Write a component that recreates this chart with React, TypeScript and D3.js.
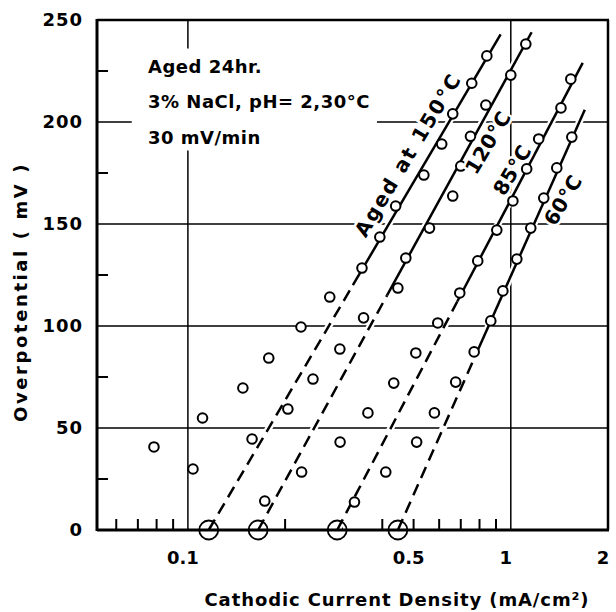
import React, { useEffect, useRef } from 'react';
import * as d3 from 'd3';

// measured points, one array pair per ageing temperature
const x150 = [0.0785, 0.111, 0.148, 0.178, 0.224, 0.275, 0.346, 0.393, 0.44, 0.538, 0.611, 0.661, 0.757, 0.843];
const y150 = [40.7, 54.9, 69.6, 84.3, 99.5, 114.2, 128.4, 143.6, 158.8, 174, 189.2, 204, 219, 232.4];
const x120 = [0.1037, 0.158, 0.204, 0.244, 0.2955, 0.35, 0.447, 0.473, 0.56, 0.661, 0.7, 0.75, 0.837, 1.0, 1.113];
const y120 = [29.9, 44.6, 59.3, 74, 88.7, 104, 118.6, 133.3, 148, 163.7, 178.4, 193, 208.3, 223, 238.2];
const x85 = [0.173, 0.225, 0.296, 0.361, 0.434, 0.508, 0.594, 0.695, 0.79, 0.905, 1.015, 1.12, 1.22, 1.43, 1.534];
const y85 = [14.2, 28.4, 43.1, 57.4, 72, 86.8, 101.5, 116.2, 131.9, 147, 161.3, 177, 191.7, 206.9, 221];
const x60 = [0.328, 0.41, 0.511, 0.58, 0.675, 0.77, 0.867, 0.945, 1.044, 1.153, 1.265, 1.388, 1.545];
const y60 = [13.7, 28.4, 43.1, 57.4, 72.5, 87.3, 102.5, 117.2, 132.8, 148, 162.7, 177.5, 192.6];

// Tafel lines: intercept at 0 mV, upper end, and where the solid part starts
const fitNames = ['Aged at 150°C', '120°C', '85°C', '60°C'];
const fitX0 = [0.116, 0.165, 0.29, 0.447];
const fitTopX = [0.93, 1.16, 1.67, 1.695];
const fitTopY = [243, 244, 229, 206];
const fitSolidFrom = [120, 115, 112, 85];
const labelX = [0.48, 0.849, 1.01, 1.449];
const labelY = [184, 190, 176.5, 161.8];

const xTickValues = [0.1, 0.5, 1, 2];
const xTickLabels = ['0.1', '0.5', '1', '2'];
const xMinorTicks = [0.06, 0.07, 0.08, 0.09, 0.2, 0.3, 0.4, 0.6, 0.7, 0.8, 0.9, 0.5];
const yTickValues = [0, 50, 100, 150, 200, 250];
const yMinorTicks = [25, 75, 125, 175, 225];
const notes = ['Aged 24hr.', '3% NaCl, pH= 2,30°C', '30 mV/min'];

const App: React.FC = () => {
  const svgRef = useRef<SVGSVGElement>(null);

  useEffect(() => {
    if (!svgRef.current) return;
    const width = 616;
    const height = 612;
    const plot = { left: 97, right: 608, top: 20, bottom: 530 };
    const font = '"DejaVu Sans", Verdana, sans-serif';

    d3.select(svgRef.current).selectAll('*').remove();
    const svg = d3.select(svgRef.current).attr('width', width).attr('height', height);

    const xScale = d3.scaleLog().domain([0.0523, 2]).range([plot.left, plot.right]);
    const yScale = d3.scaleLinear().domain([0, 250]).range([plot.bottom, plot.top]);

    const grid = svg.append('g').attr('stroke', '#000').attr('stroke-width', 1.5);
    // horizontal grid
    [50, 100, 150].forEach((v) => {
      grid.append('line')
        .attr('x1', plot.left).attr('x2', plot.right)
        .attr('y1', yScale(v)).attr('y2', yScale(v));
    });
    [[0.0523, 0.067], [0.385, 2]].forEach(([a, b]) => {
      grid.append('line')
        .attr('x1', xScale(a)).attr('x2', xScale(b))
        .attr('y1', yScale(200)).attr('y2', yScale(200));
    });
    // vertical grid
    [[250, 236], [186, 0]].forEach(([a, b]) => {
      grid.append('line')
        .attr('x1', xScale(0.1)).attr('x2', xScale(0.1))
        .attr('y1', yScale(a)).attr('y2', yScale(b));
    });
    grid.append('line')
      .attr('x1', xScale(1)).attr('x2', xScale(1))
      .attr('y1', yScale(250)).attr('y2', yScale(0));

    // minor ticks
    xMinorTicks.forEach((t) => {
      grid.append('line')
        .attr('x1', xScale(t)).attr('x2', xScale(t))
        .attr('y1', plot.bottom).attr('y2', plot.bottom - 11)
        .attr('stroke-width', 2);
    });
    yMinorTicks.forEach((t) => {
      grid.append('line')
        .attr('x1', plot.left).attr('x2', plot.left + 11)
        .attr('y1', yScale(t)).attr('y2', yScale(t))
        .attr('stroke-width', 2);
    });

    const line = d3.line<[number, number]>()
      .x((d) => xScale(d[0]))
      .y((d) => yScale(d[1]));

    const fitAt = (i: number, v: number) =>
      fitX0[i] * Math.pow(fitTopX[i] / fitX0[i], v / fitTopY[i]);

    const fits = svg.append('g').attr('fill', 'none');
    fitNames.forEach((_, i) => {
      const top: [number, number] = [fitTopX[i], fitTopY[i]];
      const mid: [number, number] = [fitAt(i, fitSolidFrom[i]), fitSolidFrom[i]];
      const foot: [number, number] = [fitX0[i], 0];
      fits.append('path').attr('d', line([foot, top]))
        .attr('stroke', '#fff').attr('stroke-width', 7);
      fits.append('path').attr('d', line([mid, top]))
        .attr('stroke', '#000').attr('stroke-width', 2.5);
      fits.append('path').attr('d', line([foot, mid]))
        .attr('stroke', '#000').attr('stroke-width', 2.5)
        .attr('stroke-dasharray', '12,7');
    });

    // points
    const pts = svg.append('g')
      .attr('fill', '#fff').attr('stroke', '#000').attr('stroke-width', 2);
    const seriesX = [x150, x120, x85, x60];
    const seriesY = [y150, y120, y85, y60];
    seriesX.forEach((xs, s) => {
      xs.forEach((xv, j) => {
        pts.append('circle')
          .attr('cx', xScale(xv)).attr('cy', yScale(seriesY[s][j])).attr('r', 4.8);
      });
    });

    // intercept circles
    fitX0.forEach((x0) => {
      svg.append('circle')
        .attr('cx', xScale(x0)).attr('cy', yScale(0)).attr('r', 9.5)
        .attr('fill', 'none').attr('stroke', '#000').attr('stroke-width', 1.8);
    });

    // curve labels
    fitNames.forEach((name, i) => {
      const px = xScale(labelX[i]);
      const py = yScale(labelY[i]);
      svg.append('text')
        .attr('transform', `translate(${px},${py}) rotate(-59)`)
        .attr('text-anchor', 'middle').attr('dy', '0.36em')
        .attr('font-family', font).attr('font-weight', 'bold')
        .attr('font-size', 20).attr('letter-spacing', i === 0 ? 2 : 0.5)
        .attr('stroke', '#fff').attr('stroke-width', 5).attr('paint-order', 'stroke')
        .attr('fill', '#000')
        .text(name);
    });

    // frame
    const frame = svg.append('g').attr('stroke', '#000').attr('fill', 'none');
    frame.append('line').attr('x1', plot.left).attr('x2', plot.left)
      .attr('y1', plot.top - 1).attr('y2', plot.bottom + 1).attr('stroke-width', 3);
    frame.append('line').attr('x1', plot.left).attr('x2', plot.right + 1)
      .attr('y1', plot.bottom).attr('y2', plot.bottom).attr('stroke-width', 3);
    frame.append('line').attr('x1', plot.left).attr('x2', plot.right + 1)
      .attr('y1', plot.top).attr('y2', plot.top).attr('stroke-width', 2.5);
    frame.append('line').attr('x1', plot.right).attr('x2', plot.right)
      .attr('y1', plot.top).attr('y2', plot.bottom).attr('stroke-width', 2.5);

    // tick labels
    const labels = svg.append('g')
      .attr('font-family', font).attr('font-weight', 'bold').attr('font-size', 18).attr('fill', '#000');
    yTickValues.forEach((v) => {
      labels.append('text')
        .attr('x', plot.left - 14).attr('y', yScale(v)).attr('dy', '0.36em')
        .attr('text-anchor', 'end').attr('letter-spacing', 1)
        .text(String(v));
    });
    xTickValues.forEach((v, i) => {
      labels.append('text')
        .attr('x', xScale(v) - 5).attr('y', plot.bottom + 34)
        .attr('text-anchor', 'middle')
        .text(xTickLabels[i]);
    });

    // notes
    notes.forEach((n, i) => {
      labels.append('text')
        .attr('x', 148).attr('y', [73, 108, 144][i])
        .attr('letter-spacing', 0.5)
        .text(n);
    });

    // axis titles
    labels.append('text')
      .attr('transform', `translate(27,${292}) rotate(-90)`)
      .attr('text-anchor', 'middle').attr('letter-spacing', 2.6)
      .text('Overpotential ( mV )');
    labels.append('text')
      .attr('x', 397).attr('y', 606)
      .attr('text-anchor', 'middle').attr('letter-spacing', 0.9)
      .text('Cathodic Current Density (mA/cm²)');
  }, []);

  return (
    <div>
      <svg ref={svgRef} style={{ position: 'absolute', left: 0, top: 0, background: '#fff' }}></svg>
    </div>
  );
};

export default App;
